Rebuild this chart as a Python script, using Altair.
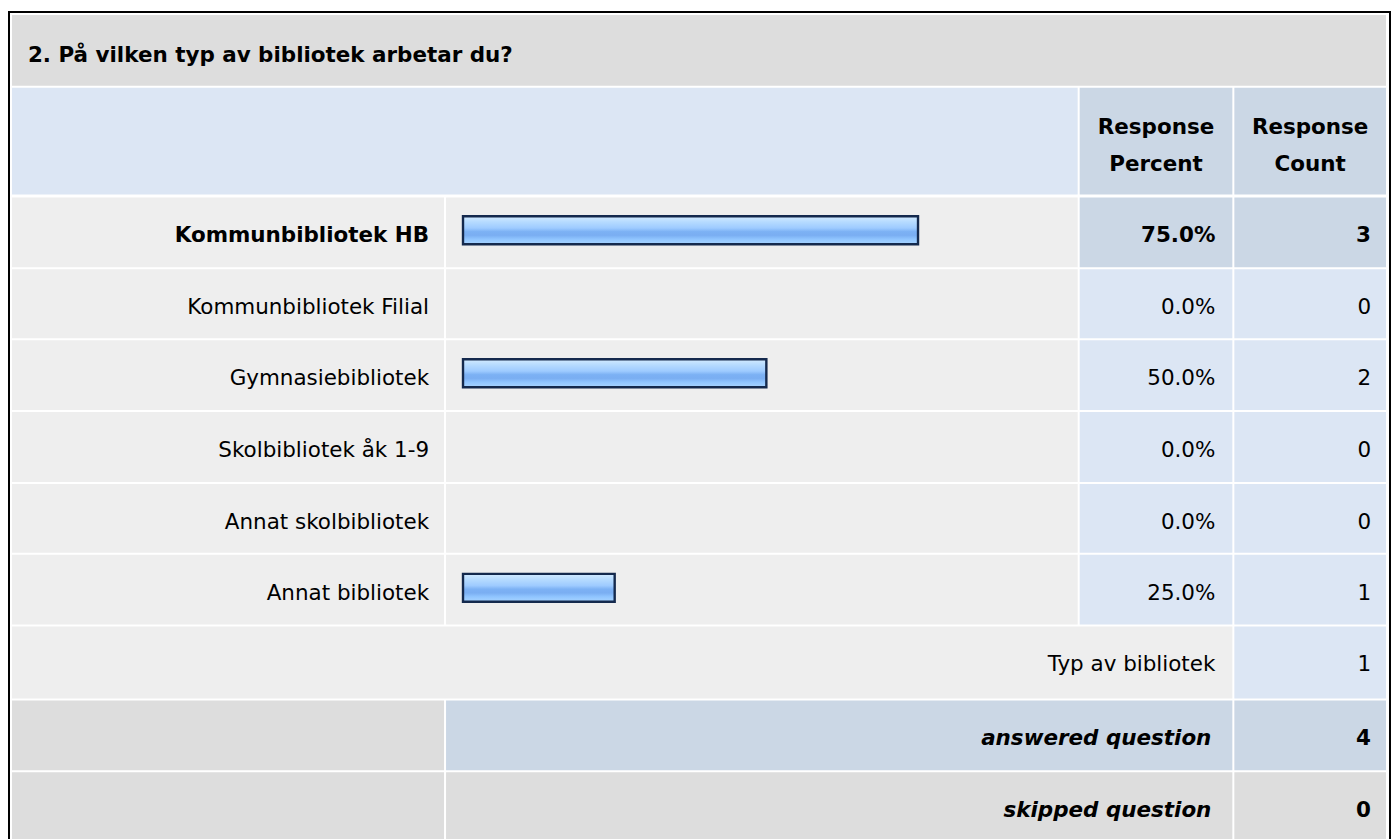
import altair as alt
import pandas as pd

# ---------------- data ----------------
title_text = "2. På vilken typ av bibliotek arbetar du?"
categories = ["Kommunbibliotek HB", "Kommunbibliotek Filial", "Gymnasiebibliotek",
              "Skolbibliotek åk 1-9", "Annat skolbibliotek", "Annat bibliotek"]
percents = [75.0, 0.0, 50.0, 0.0, 0.0, 25.0]
counts = [3, 0, 2, 0, 0, 1]
header_percent = ["Response", "Percent"]
header_count = ["Response", "Count"]
other_label = "Typ av bibliotek"
other_count = 1
summary_labels = ["answered question", "skipped question"]
summary_counts = [4, 0]

# ---------------- layout (chart pixels) ----------------
W, H = 1386, 840
COL_LABEL = (4, 437)
COL_BAR = (439, 1072)
COL_PCT = (1074, 1227)
COL_CNT = (1229, 1381)
TITLE_ROW = (6, 77)
HEADER_ROW = (79, 186)
ROW_TOPS = [189, 261, 332, 404, 476, 547, 619, 693, 765]
ROW_BOTS = [259, 330, 402, 474, 545, 617, 691, 763, 835]
BASE_DY = 45

GRAY_D = "#dddddd"
GRAY_L = "#eeeeee"
BLUE_L = "#dce6f4"
BLUE_M = "#cbd7e5"
FONT = "DejaVu Sans"
FS = 21.5

hi_idx = percents.index(max(percents))

# ---------------- cells ----------------
cells = []
def cell(c, r, fill):
    cells.append({"x": c[0], "x2": c[1], "y": r[0], "y2": r[1], "fill": fill})

cell((COL_LABEL[0], COL_CNT[1]), TITLE_ROW, GRAY_D)
cell((COL_LABEL[0], COL_BAR[1]), HEADER_ROW, BLUE_L)
cell(COL_PCT, HEADER_ROW, BLUE_M)
cell(COL_CNT, HEADER_ROW, BLUE_M)
for i in range(len(categories)):
    r = (ROW_TOPS[i], ROW_BOTS[i])
    cell(COL_LABEL, r, GRAY_L)
    cell(COL_BAR, r, GRAY_L)
    side = BLUE_M if i == hi_idx else BLUE_L
    cell(COL_PCT, r, side)
    cell(COL_CNT, r, side)
k = len(categories)
r = (ROW_TOPS[k], ROW_BOTS[k])
cell((COL_LABEL[0], COL_PCT[1]), r, GRAY_L)
cell(COL_CNT, r, BLUE_L)
r = (ROW_TOPS[k + 1], ROW_BOTS[k + 1])
cell(COL_LABEL, r, GRAY_D)
cell((COL_BAR[0], COL_PCT[1]), r, BLUE_M)
cell(COL_CNT, r, BLUE_M)
r = (ROW_TOPS[k + 2], ROW_BOTS[k + 2])
cell(COL_LABEL, r, GRAY_D)
cell((COL_BAR[0], COL_PCT[1]), r, GRAY_D)
cell(COL_CNT, r, GRAY_D)
cells_df = pd.DataFrame(cells)

xs = alt.Scale(domain=[0, W], range=[0, W], nice=False, zero=False)
ys = alt.Scale(domain=[0, H], range=[0, H], nice=False, zero=False)

cells_layer = alt.Chart(cells_df).mark_rect().encode(
    x=alt.X("x:Q", scale=xs, axis=None), x2="x2:Q",
    y=alt.Y("y:Q", scale=ys, axis=None), y2="y2:Q",
    fill=alt.Fill("fill:N", scale=None),
)

frame_layer = alt.Chart(pd.DataFrame({"x": [1], "x2": [W - 1], "y": [3], "y2": [H + 6]})).mark_rect(
    fill=None, stroke="#000000", strokeWidth=2, clip=False
).encode(
    x=alt.X("x:Q", scale=xs, axis=None), x2="x2:Q",
    y=alt.Y("y:Q", scale=ys, axis=None), y2="y2:Q",
)

# ---------------- texts ----------------
texts = []
def txt(x, y, t, style):
    texts.append({"x": x, "y": y, "t": t, "style": style})

LBL_R = 422
PCT_R = 1210
CNT_R = 1366
txt(20, 53, title_text, "title")
pc = (COL_PCT[0] + COL_PCT[1]) / 2
cc = (COL_CNT[0] + COL_CNT[1]) / 2
for j, (a, b) in enumerate(zip(header_percent, header_count)):
    txt(pc, 125 + 37 * j, a, "head")
    txt(cc, 125 + 37 * j, b, "head")
for i, (c, p, n) in enumerate(zip(categories, percents, counts)):
    st = "bold" if i == hi_idx else "reg"
    y = ROW_TOPS[i] + BASE_DY
    txt(LBL_R, y, c, st)
    txt(PCT_R, y, f"{p:.1f}%", st)
    txt(CNT_R, y, str(n), st)
txt(PCT_R, ROW_TOPS[k] + BASE_DY, other_label, "reg")
txt(CNT_R, ROW_TOPS[k] + BASE_DY, str(other_count), "reg")
for j, (lab, n) in enumerate(zip(summary_labels, summary_counts)):
    y = ROW_TOPS[k + 1 + j] + BASE_DY
    txt(PCT_R - 4, y, lab, "bi")
    txt(CNT_R, y, str(n), "bold")
texts_df = pd.DataFrame(texts)

def text_layer(style, align, weight="normal", fstyle="normal"):
    return alt.Chart(texts_df).transform_filter(alt.datum.style == style).mark_text(
        align=align, baseline="alphabetic", font=FONT, fontSize=FS,
        fontWeight=weight, fontStyle=fstyle, color="#000000"
    ).encode(
        x=alt.X("x:Q", scale=xs, axis=None),
        y=alt.Y("y:Q", scale=ys, axis=None),
        text="t:N",
    )

# ---------------- bars ----------------
bars_df = pd.DataFrame({"cat": categories, "pct": percents})
grad = alt.LinearGradient(
    gradient="linear", x1=0, x2=0, y1=0, y2=1,
    stops=[
        alt.GradientStop(color="#d3ebff", offset=0.0),
        alt.GradientStop(color="#b6dbff", offset=0.2),
        alt.GradientStop(color="#9ecbff", offset=0.42),
        alt.GradientStop(color="#7cb1f4", offset=0.55),
        alt.GradientStop(color="#7aaef2", offset=0.68),
        alt.GradientStop(color="#90c5ff", offset=0.82),
        alt.GradientStop(color="#a8d4ff", offset=1.0),
    ],
)
bars_layer = alt.Chart(bars_df).transform_filter(alt.datum.pct > 0).mark_bar(
    fill=grad, stroke="#14294d", strokeWidth=2.4, cornerRadius=0
).encode(
    x=alt.X("pct:Q", scale=alt.Scale(domain=[0, 100], range=[456, 1064], nice=False, zero=True), axis=None),
    y=alt.Y("cat:N", sort=categories,
            scale=alt.Scale(domain=categories, range=[186, 616], paddingInner=0.6093, paddingOuter=0.3047),
            axis=None),
)

chart = alt.layer(
    cells_layer,
    frame_layer,
    bars_layer,
    text_layer("title", "left", "bold"),
    text_layer("head", "center", "bold"),
    text_layer("reg", "right"),
    text_layer("bold", "right", "bold"),
    text_layer("bi", "right", "bold", "italic"),
).resolve_scale(x="independent", y="independent").properties(
    width=W, height=H, padding=0, autosize="none", background="#ffffff"
).configure_view(stroke=None)

chart.save("out.html", embed_options={"renderer": "svg", "actions": False})
